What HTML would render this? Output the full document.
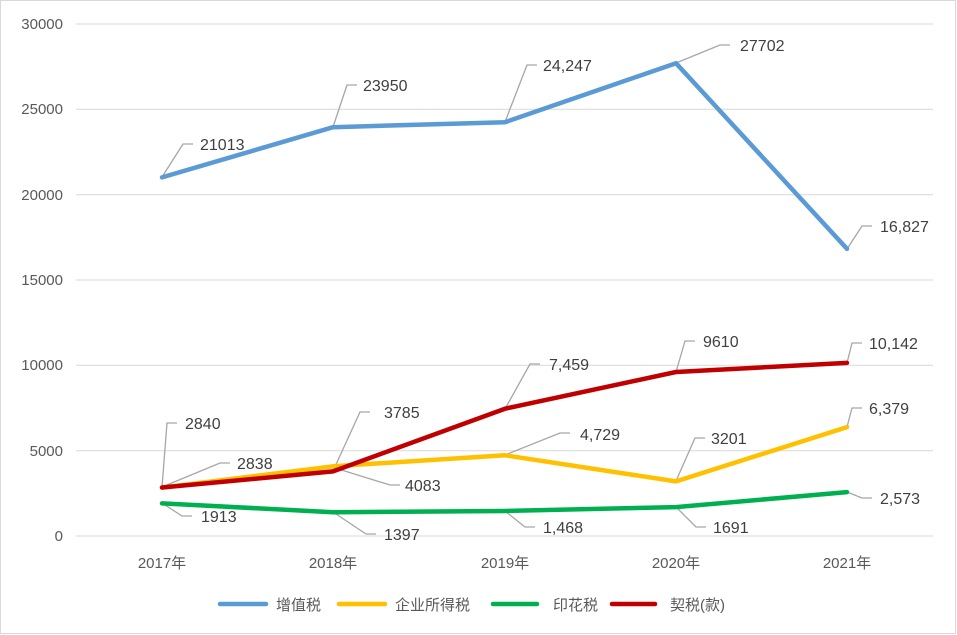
<!DOCTYPE html>
<html><head><meta charset="utf-8"><style>
html,body{margin:0;padding:0;background:#fff;}
svg{display:block;font-family:"Liberation Sans","Noto Sans CJK SC",sans-serif;}
</style></head><body>
<svg width="957" height="635" viewBox="0 0 957 635" xmlns="http://www.w3.org/2000/svg">
<rect x="0.5" y="0.5" width="955" height="633" fill="#fff" stroke="#d9d9d9"/>
<g stroke="#d9d9d9" stroke-width="1">
<line x1="76" y1="24" x2="933" y2="24"/><line x1="76" y1="109.3" x2="933" y2="109.3"/>
<line x1="76" y1="194.7" x2="933" y2="194.7"/><line x1="76" y1="280" x2="933" y2="280"/>
<line x1="76" y1="365.3" x2="933" y2="365.3"/><line x1="76" y1="450.7" x2="933" y2="450.7"/>
<line x1="76" y1="536" x2="933" y2="536"/>
</g>
<g fill="#595959" font-size="15" text-anchor="end">
<text x="63" y="29">30000</text><text x="63" y="114">25000</text><text x="63" y="200">20000</text>
<text x="63" y="285">15000</text><text x="63" y="370">10000</text><text x="63" y="456">5000</text>
<text x="63" y="541">0</text>
</g>
<g fill="#595959" font-size="15" text-anchor="middle">
<text x="162" y="568">2017年</text><text x="333" y="568">2018年</text><text x="505" y="568">2019年</text>
<text x="676" y="568">2020年</text><text x="847" y="568">2021年</text>
</g>
<!-- leader lines -->
<g stroke="#a6a6a6" stroke-width="1.3" fill="none">
<polyline points="162,177 183,144 193,144"/><polyline points="333,127 347,85 357,85"/>
<polyline points="505,122 527,65 537,65"/><polyline points="676,63 720,45 730,45"/>
<polyline points="847,249 862,226 872,226"/>
<polyline points="162,487 167,423 177,423"/><polyline points="333,471 360,412 370,412"/>
<polyline points="505,409 530,364 540,364"/><polyline points="676,372 685,341 695,341"/>
<polyline points="847,363 852,343 862,343"/>
<polyline points="162,487 220,463 230,463"/><polyline points="335,468 390,485 400,485"/>
<polyline points="505,455 560,433 570,433"/><polyline points="676,481 695,438 705,438"/>
<polyline points="847,427 852,408 862,408"/>
<polyline points="162,503 182,516 192,516"/><polyline points="333,512 366,534 376,534"/>
<polyline points="505,511 525,527 535,527"/><polyline points="676,507 696,527 706,527"/>
<polyline points="847,492 862,498 872,498"/>
</g>
<g fill="none" stroke-width="4.5" stroke-linejoin="round" stroke-linecap="round">
<polyline stroke="#5b9bd5" points="162,177.4 333,127.2 505,122.2 676,63.2 847,248.8"/>
<polyline stroke="#ffc000" points="162,487.6 333,466.3 505,455.3 676,481.4 847,427.1"/>
<polyline stroke="#00b050" points="162,503.4 333,512.2 505,511 676,507.1 847,492.1"/>
<polyline stroke="#c00000" points="162,487.5 333,471.4 505,408.7 676,372 847,362.9"/>
</g>
<g fill="#404040" font-size="16">
<text x="200" y="150">21013</text><text x="363" y="91">23950</text><text x="543" y="71">24,247</text>
<text x="740" y="51">27702</text><text x="880" y="232">16,827</text>
<text x="185" y="429">2840</text><text x="384" y="418">3785</text><text x="549" y="370">7,459</text>
<text x="703" y="347">9610</text><text x="869" y="349">10,142</text>
<text x="237" y="469">2838</text><text x="405" y="491">4083</text><text x="580" y="440">4,729</text>
<text x="711" y="444">3201</text><text x="869" y="414">6,379</text>
<text x="201" y="522">1913</text><text x="384" y="540">1397</text><text x="543" y="533">1,468</text>
<text x="713" y="533">1691</text><text x="880" y="504">2,573</text>
</g>
<g stroke-width="4.5" stroke-linecap="round">
<line x1="220" y1="604" x2="266" y2="604" stroke="#5b9bd5"/>
<line x1="339" y1="604" x2="385" y2="604" stroke="#ffc000"/>
<line x1="493" y1="604" x2="537" y2="604" stroke="#00b050"/>
<line x1="612" y1="604" x2="655" y2="604" stroke="#c00000"/>
</g>
<g fill="#595959" font-size="15">
<text x="276" y="610">增值税</text><text x="395" y="610">企业所得税</text>
<text x="553" y="610">印花税</text><text x="670" y="610">契税(款)</text>
</g>
</svg>
</body></html>
